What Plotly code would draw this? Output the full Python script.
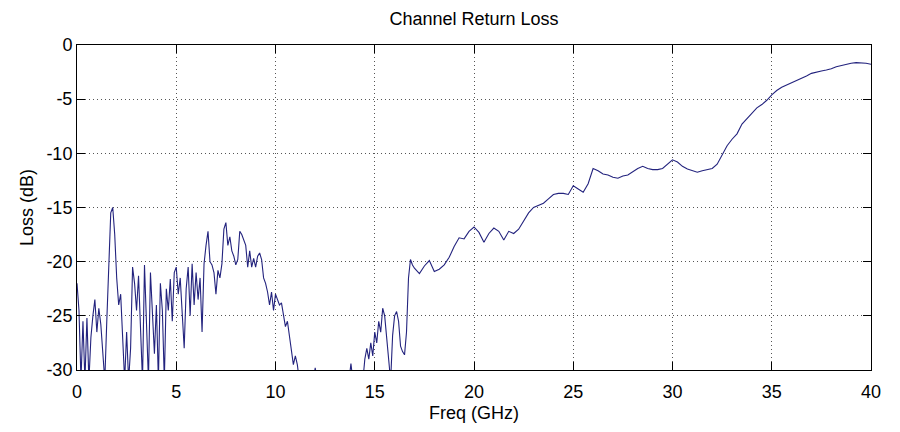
import plotly.graph_objects as go

# Return loss samples, 0-17 GHz band (0.1 GHz spacing, values below -30 dB fall off-scale)
freq_low = [
    0.0, 0.1, 0.2, 0.3, 0.4, 0.5, 0.6, 0.7, 0.8, 0.9,
    1.0, 1.1, 1.2, 1.3, 1.4, 1.5, 1.6, 1.7, 1.8, 1.9,
    2.0, 2.1, 2.2, 2.3, 2.4, 2.5, 2.6, 2.7, 2.8, 2.9,
    3.0, 3.1, 3.2, 3.3, 3.4, 3.5, 3.6, 3.7, 3.8, 3.9,
    4.0, 4.1, 4.2, 4.3, 4.4, 4.5, 4.6, 4.7, 4.8, 4.9,
    5.0, 5.1, 5.2, 5.3, 5.4, 5.5, 5.6, 5.7, 5.8, 5.9,
    6.0, 6.1, 6.2, 6.3, 6.4, 6.5, 6.6, 6.7, 6.8, 6.9,
    7.0, 7.1, 7.2, 7.3, 7.4, 7.5, 7.6, 7.7, 7.8, 7.9,
    8.0, 8.1, 8.2, 8.3, 8.4, 8.5, 8.6, 8.7, 8.8, 8.9,
    9.0, 9.1, 9.2, 9.3, 9.4, 9.5, 9.6, 9.7, 9.8, 9.9,
    10.0, 10.1, 10.2, 10.3, 10.4, 10.5, 10.6, 10.7, 10.8, 10.9,
    11.0, 11.1, 11.2, 11.3, 11.4, 11.5, 11.6, 11.7, 11.8, 11.9,
    12.0, 12.1, 12.2, 12.3, 12.4, 12.5, 12.6, 12.7, 12.8, 12.9,
    13.0, 13.1, 13.2, 13.3, 13.4, 13.5, 13.6, 13.7, 13.8, 13.9,
    14.0, 14.1, 14.2, 14.3, 14.4, 14.5, 14.6, 14.7, 14.8, 14.9,
    15.0, 15.1, 15.2, 15.3, 15.4, 15.5, 15.6, 15.7, 15.8, 15.9,
    16.0, 16.1, 16.2, 16.3, 16.4, 16.5, 16.6, 16.7, 16.8, 16.9,
    17.0,
]
loss_low = [
    -22.0, -24.5, -31.0, -25.5, -31.0, -25.2, -31.0, -27.0, -25.0, -23.5,
    -26.5, -24.3, -25.8, -28.0, -31.0, -25.5, -20.5, -15.5, -15.0, -17.5,
    -21.5, -24.0, -23.0, -26.5, -31.0, -26.5, -31.0, -28.0, -20.5, -22.0,
    -24.5, -21.3, -27.0, -31.0, -20.3, -26.0, -31.0, -21.0, -24.5, -28.5,
    -24.0, -31.0, -22.0, -24.5, -31.0, -22.5, -24.5, -21.6, -25.5, -21.0,
    -20.5, -23.0, -21.5, -24.5, -28.0, -22.5, -20.5, -25.0, -20.2, -24.0,
    -21.0, -23.5, -21.5, -26.5, -20.2, -18.5, -17.2, -20.0, -20.3, -21.0,
    -23.0, -20.8, -21.5, -20.2, -17.0, -16.4, -18.5, -17.7, -19.0, -19.5,
    -20.3, -19.8, -17.2, -17.5, -18.0, -18.5, -20.5, -19.0, -20.5, -19.7,
    -20.5, -19.5, -19.2, -19.8, -21.5, -22.0, -22.8, -24.0, -22.8, -24.5,
    -23.0, -23.5, -24.0, -23.8, -25.0, -26.0, -25.5, -27.0, -28.0, -29.5,
    -28.7, -29.5, -31.0, -32.0, -32.0, -32.0, -32.0, -32.0, -32.0, -31.0,
    -29.8, -31.0, -32.0, -32.0, -32.0, -32.0, -32.0, -32.0, -32.0, -32.0,
    -32.0, -32.0, -32.0, -32.0, -32.0, -32.0, -32.0, -31.0, -29.4, -31.0,
    -32.0, -32.0, -32.0, -31.0, -31.0, -29.0, -28.0, -29.0, -27.5, -28.7,
    -26.5, -27.5, -25.5, -26.5, -24.3, -25.0, -27.0, -28.5, -31.0, -26.8,
    -25.0, -24.6, -25.5, -27.8, -28.3, -28.6, -26.5, -21.5, -19.8, -20.3,
    -20.6,
]

# Return loss samples, 17.25-40 GHz band (0.25 GHz spacing)
freq_high = [
    17.25, 17.5, 17.75, 18.0, 18.25, 18.5, 18.75, 19.0, 19.25, 19.5, 19.75,
    20.0, 20.25, 20.5, 20.75, 21.0, 21.25, 21.5, 21.75, 22.0, 22.25, 22.5, 22.75,
    23.0, 23.25, 23.5, 23.75, 24.0, 24.25, 24.5, 24.75, 25.0, 25.25, 25.5, 25.75,
    26.0, 26.25, 26.5, 26.75, 27.0, 27.25, 27.5, 27.75, 28.0, 28.25, 28.5, 28.75,
    29.0, 29.25, 29.5, 29.75, 30.0, 30.25, 30.5, 30.75, 31.0, 31.25, 31.5, 31.75,
    32.0, 32.25, 32.5, 32.75, 33.0, 33.25, 33.5, 33.75, 34.0, 34.25, 34.5, 34.75,
    35.0, 35.25, 35.5, 35.75, 36.0, 36.25, 36.5, 36.75, 37.0, 37.25, 37.5, 37.75,
    38.0, 38.25, 38.5, 38.75, 39.0, 39.25, 39.5, 39.75, 40.0,
]
loss_high = [
    -21.1, -20.4, -19.9, -20.9, -20.7, -20.3, -19.6, -18.6, -17.8, -17.9, -17.2,
    -16.8, -17.3, -18.2, -17.4, -16.9, -17.2, -18.0, -17.2, -17.4, -17.0, -16.2, -15.5,
    -15.0, -14.8, -14.6, -14.2, -13.8, -13.7, -13.7, -13.8, -13.0, -13.3, -13.6, -12.8,
    -11.4, -11.6, -11.9, -12.0, -12.2, -12.3, -12.1, -12.0, -11.7, -11.4, -11.2, -11.4,
    -11.5, -11.5, -11.4, -11.0, -10.6, -10.8, -11.2, -11.45, -11.6, -11.75, -11.6, -11.5,
    -11.4, -11.0, -10.1, -9.3, -8.7, -8.2, -7.3, -6.8, -6.3, -5.8, -5.5, -5.1,
    -4.6, -4.2, -3.9, -3.7, -3.5, -3.3, -3.1, -2.86, -2.62, -2.49, -2.4, -2.31,
    -2.2, -2.0, -1.88, -1.75, -1.69, -1.63, -1.63, -1.69, -1.78,
]

x_ticks = [0, 5, 10, 15, 20, 25, 30, 35, 40]
y_ticks = [0, -5, -10, -15, -20, -25, -30]

FONT = "Liberation Sans, Arial, Helvetica, sans-serif"

fig = go.Figure(
    go.Scatter(
        x=freq_low + freq_high,
        y=loss_low + loss_high,
        mode="lines",
        line=dict(color="#23237e", width=1.1),
        showlegend=False,
    )
)

axis_common = dict(
    showgrid=True,
    gridcolor="#555555",
    gridwidth=1,
    griddash="1px,3px",
    showline=True,
    linecolor="black",
    linewidth=1,
    mirror="ticks",
    ticks="inside",
    ticklen=8,
    tickcolor="black",
    tickwidth=1,
    zeroline=False,
    tickfont=dict(family=FONT, size=18, color="black"),
)

fig.update_layout(
    width=900,
    height=432,
    margin=dict(l=77, r=29, t=45, b=62),
    paper_bgcolor="white",
    plot_bgcolor="white",
    font=dict(family=FONT, color="black"),
    title=dict(
        text="Channel Return Loss",
        x=0.5,
        xref="paper",
        xanchor="center",
        y=1 - 19 / 432,
        yref="container",
        yanchor="middle",
        font=dict(family=FONT, size=18, color="black"),
    ),
    xaxis=dict(
        range=[0, 40],
        tickvals=x_ticks,
        ticktext=[str(v) for v in x_ticks],
        ticklabelstandoff=5,
        title=dict(text="Freq (GHz)", font=dict(family=FONT, size=18), standoff=5),
        **axis_common,
    ),
    yaxis=dict(
        range=[-30, 0],
        tickvals=y_ticks,
        ticktext=[str(v) for v in y_ticks],
        title=dict(text="Loss (dB)", font=dict(family=FONT, size=18), standoff=8),
        **axis_common,
    ),
)

fig.write_html("out.html")
